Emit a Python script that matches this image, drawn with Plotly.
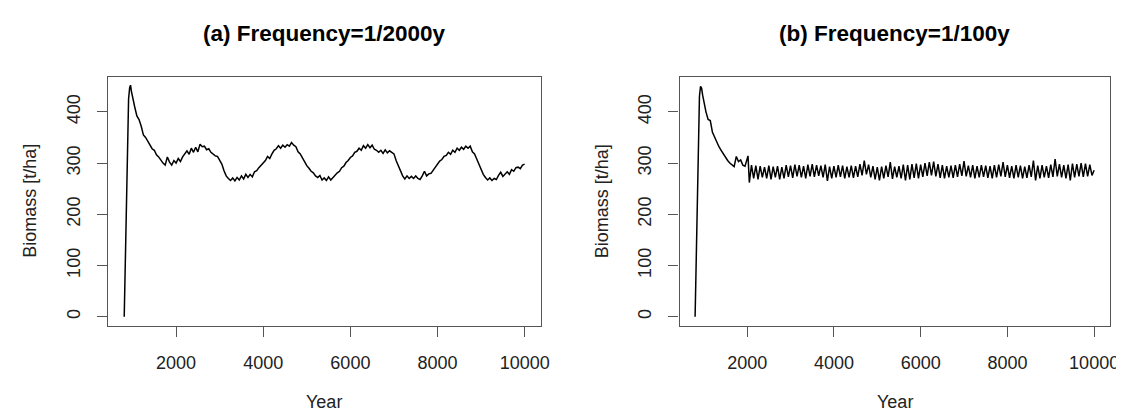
import plotly.graph_objects as go

# ---------------- data ----------------
# Panel (a): disturbance frequency 1/2000y
years_a_start = [810, 850, 880, 910, 935, 955, 975, 1000]
biomass_a_start = [0, 200, 340, 425, 447, 452, 440, 428]

# step-50 series from 1050 to 10000
biomass_a_50 = [
    410, 392, 385, 372, 355, 350, 342, 335, 328, 325,   # 1050-1500
    316, 312, 305, 300, 296, 312, 302, 296, 305, 300,   # 1550-2000
    309, 303, 312, 318, 324, 317, 329, 321, 331, 322,   # 2050-2500
    337, 332, 333, 326, 328, 321, 318, 314, 313, 305,   # 2550-3000
    298, 285, 275, 270, 266, 271, 265, 272, 267, 275,   # 3050-3500
    269, 278, 272, 278, 273, 283, 285, 291, 296, 301,   # 3550-4000
    305, 313, 309, 318, 325, 328, 334, 329, 335, 331,   # 4050-4500
    336, 333, 340, 335, 332, 322, 318, 310, 302, 295,   # 4550-5000
    290, 284, 281, 275, 272, 276, 267, 271, 266, 273,   # 5050-5500
    267, 272, 275, 281, 284, 291, 294, 301, 305, 311,   # 5550-6000
    314, 321, 323, 329, 325, 334, 329, 336, 330, 335,   # 6050-6500
    327, 325, 321, 325, 319, 326, 320, 324, 321, 318,   # 6550-7000
    305, 295, 282, 275, 269, 275, 270, 274, 270, 275,   # 7050-7500
    270, 268, 275, 284, 275, 279, 280, 286, 292, 298,   # 7550-8000
    304, 307, 313, 315, 321, 317, 325, 321, 329, 325,   # 8050-8500
    331, 327, 333, 329, 333, 322, 318, 308, 298, 288,   # 8550-9000
    278, 272, 267, 271, 266, 270, 268, 276, 282, 274,   # 9050-9500
    279, 283, 278, 287, 284, 291, 292, 289, 296, 298,   # 9550-10000
]

# Panel (b): disturbance frequency 1/100y
years_b_start = [800, 840, 870, 900, 925, 950, 975, 1000, 1050, 1100, 1150,
                 1200, 1250, 1300, 1350, 1400, 1450, 1500, 1550, 1600, 1650,
                 1700, 1750, 1800, 1850, 1900, 1950, 2020]
biomass_b_start = [0, 200, 350, 430, 450, 446, 432, 420, 400, 385, 383,
                   360, 350, 340, 332, 325, 318, 310, 305, 300, 296,
                   293, 313, 303, 306, 296, 294, 314]

# troughs (just after each disturbance) at 2050, 2150, ..., 9950
biomass_b_troughs = [
    262, 270, 268, 272, 270, 268, 272, 268, 270, 273,
    271, 274, 272, 270, 274, 273, 275, 272, 265, 270,
    272, 273, 270, 272, 271, 273, 276, 278, 272, 268,
    266, 270, 273, 269, 272, 270, 266, 268, 271, 270,
    273, 275, 276, 274, 271, 270, 272, 271, 273, 275,
    274, 272, 270, 272, 273, 271, 270, 272, 274, 273,
    271, 270, 272, 270, 271, 273, 266, 270, 272, 271,
    273, 274, 272, 270, 266, 272, 274, 273, 274, 276,
]
# peaks (just before each disturbance) at 2100, 2200, ..., 10000
biomass_b_peaks = [
    296, 295, 294, 292, 295, 293, 294, 292, 296, 295,
    297, 296, 294, 297, 298, 296, 295, 297, 293, 294,
    296, 295, 293, 295, 294, 298, 305, 297, 294, 292,
    293, 295, 302, 293, 294, 297, 296, 298, 299, 297,
    300, 302, 303, 298, 296, 294, 295, 296, 298, 304,
    295, 296, 294, 296, 295, 294, 296, 297, 302, 296,
    294, 296, 295, 293, 296, 305, 295, 296, 294, 297,
    308, 298, 296, 297, 299, 298, 300, 299, 297, 286,
]

x_ticks = [2000, 4000, 6000, 8000, 10000]
y_ticks = [0, 100, 200, 300, 400]
titles = ["<b>(a) Frequency=1/2000y</b>", "<b>(b) Frequency=1/100y</b>"]
x_label = "Year"
y_label = "Biomass [t/ha]"

# ---------------- build series ----------------
years_a = years_a_start + [1050 + 50 * i for i in range(len(biomass_a_50))]
bio_a = biomass_a_start + biomass_a_50

years_b = list(years_b_start)
bio_b = list(biomass_b_start)
for i, (t, p) in enumerate(zip(biomass_b_troughs, biomass_b_peaks)):
    years_b += [2050 + 100 * i, 2100 + 100 * i]
    bio_b += [t, p]

# ---------------- figure ----------------
W, H = 1124, 410
FONT = "Liberation Sans, Arial, Helvetica, sans-serif"
AX = "#555555"
TXT = "#222222"

fig = go.Figure()
fig.add_trace(go.Scatter(x=years_a, y=bio_a, mode="lines",
                         line=dict(color="black", width=1.5),
                         xaxis="x", yaxis="y", showlegend=False))
fig.add_trace(go.Scatter(x=years_b, y=bio_b, mode="lines",
                         line=dict(color="black", width=1.5),
                         xaxis="x2", yaxis="y2", showlegend=False))

box_top, box_bot = 68.5, 318
panels = [(101, 537), (677, 1111)]
ydom = [1 - box_bot / H, 1 - box_top / H]

common_x = dict(range=[442, 10368], tickvals=x_ticks, ticktext=[str(v) for v in x_ticks],
                showline=True, mirror=True, linecolor=AX, linewidth=1.2,
                ticks="outside", ticklen=10, tickcolor=AX, tickwidth=1.2,
                showgrid=False, zeroline=False, ticklabelstandoff=10,
                tickfont=dict(family=FONT, size=18, color=TXT))
common_y = dict(range=[-18, 469], tickvals=y_ticks, ticktext=[str(v) for v in y_ticks],
                showline=True, mirror=True, linecolor=AX, linewidth=1.2,
                ticks="outside", ticklen=10, tickcolor=AX, tickwidth=1.2,
                showgrid=False, zeroline=False, tickangle=-90, ticklabelstandoff=10,
                tickfont=dict(family=FONT, size=18, color=TXT))

fig.update_layout(
    width=W, height=H,
    margin=dict(l=0, r=0, t=0, b=0),
    paper_bgcolor="white", plot_bgcolor="white",
    xaxis=dict(domain=[panels[0][0] / W, panels[0][1] / W], anchor="y", **common_x),
    yaxis=dict(domain=ydom, anchor="x", **common_y),
    xaxis2=dict(domain=[panels[1][0] / W, panels[1][1] / W], anchor="y2", **common_x),
    yaxis2=dict(domain=ydom, anchor="x2", **common_y),
)

ann = []
for (x0, x1), title, ylab_x in zip(panels, titles, [22, 599]):
    cx = (x0 + x1) / 2
    ann.append(dict(text=title, x=cx / W, y=1 - 25 / H, xref="paper", yref="paper",
                    xanchor="center", yanchor="middle", showarrow=False,
                    font=dict(family=FONT, size=22.5, color="black")))
    ann.append(dict(text=x_label, x=cx / W, y=1 - 394 / H, xref="paper", yref="paper",
                    xanchor="center", yanchor="middle", showarrow=False,
                    font=dict(family=FONT, size=18, color=TXT)))
    ann.append(dict(text=y_label, x=ylab_x / W, y=1 - 193 / H, xref="paper", yref="paper",
                    xanchor="center", yanchor="middle", showarrow=False, textangle=-90,
                    font=dict(family=FONT, size=18, color=TXT)))
fig.update_layout(annotations=ann)

fig.write_html("out.html")
